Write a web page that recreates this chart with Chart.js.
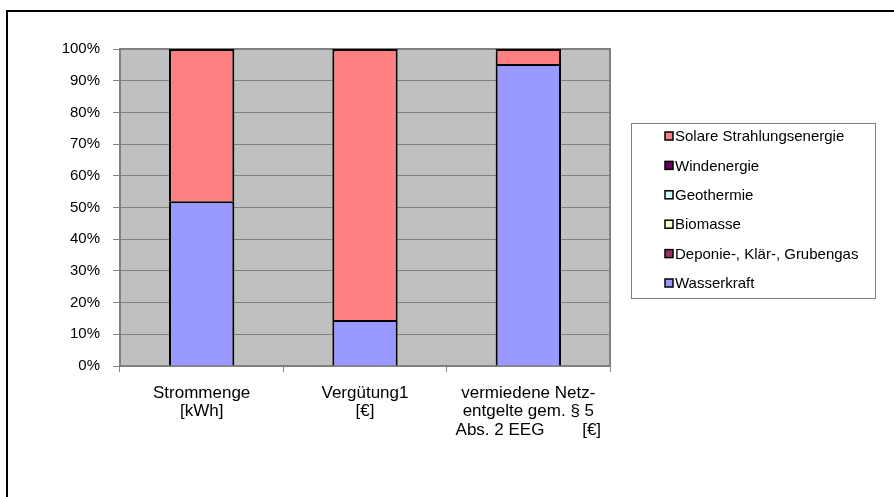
<!DOCTYPE html>
<html><head><meta charset="utf-8">
<script src="https://cdn.jsdelivr.net/npm/chart.js@4/dist/chart.umd.min.js"></script>
<style>html,body{margin:0;padding:0;background:#fff}#wrap{width:894px;height:497px;position:relative}</style>
</head><body><div id="wrap"><canvas id="c" width="894" height="497"></canvas></div>
<script>
const categories = [["Strommenge","[kWh]"],["Vergütung1","[€]"],["vermiedene Netz-","entgelte gem. § 5","Abs. 2 EEG        [€]"]];
const seriesNames = ["Wasserkraft","Deponie-, Klär-, Grubengas","Biomasse","Geothermie","Windenergie","Solare Strahlungsenergie"];
const wasserkraft = [52.0, 14.5, 95.3];
const deponie = [0, 0, 0];
const biomasse = [0, 0, 0];
const geothermie = [0, 0, 0];
const windenergie = [0, 0, 0];
const solar = [48.0, 85.5, 4.7];
const seriesColors = ["#9999FF","#993366","#FFFFCC","#CCFFFF","#660066","#FF8080"];
const yTickValues = [0,10,20,30,40,50,60,70,80,90,100];

const seriesValues = [wasserkraft, deponie, biomasse, geothermie, windenergie, solar];
const FONT = "'Liberation Sans', Arial, sans-serif";

const bgPlugin = {
  id: 'bg',
  beforeDraw(chart) {
    const c = chart.ctx, a = chart.chartArea;
    c.save();
    c.fillStyle = '#fff';
    c.fillRect(0, 0, chart.width, chart.height);
    c.fillStyle = '#C0C0C0';
    c.fillRect(a.left, a.top, a.right - a.left, a.bottom - a.top);
    c.strokeStyle = '#000';
    c.lineWidth = 2;
    c.beginPath();
    c.moveTo(7, chart.height);
    c.lineTo(7, 11);
    c.lineTo(chart.width, 11);
    c.stroke();
    c.restore();
  },
  beforeDatasetsDraw(chart) {
    const c = chart.ctx, a = chart.chartArea;
    c.save();
    c.strokeStyle = '#808080';
    c.lineWidth = 2;
    c.beginPath();
    c.moveTo(a.left, a.top); c.lineTo(a.right, a.top); c.lineTo(a.right, a.bottom);
    c.stroke();
    c.restore();
  },
  afterDraw(chart) {
    const c = chart.ctx;
    c.save();
    c.strokeStyle = '#808080';
    c.lineWidth = 1;
    c.strokeRect(631.5, 123.5, 244, 175);
    const ds = chart.data.datasets;
    c.font = '15px ' + FONT;
    c.textBaseline = 'middle';
    c.textAlign = 'left';
    for (let k = 0; k < ds.length; k++) {
      const d = ds[ds.length - 1 - k];
      const y = 136 + k * 29.4;
      c.fillStyle = d.backgroundColor;
      c.fillRect(665, y - 4, 8, 8);
      c.strokeStyle = '#000';
      c.lineWidth = 1.5;
      c.strokeRect(665, y - 4, 8, 8);
      c.fillStyle = '#000';
      c.fillText(d.label, 675, y + 1);
    }
    c.restore();
  }
};

new Chart(document.getElementById('c'), {
  type: 'bar',
  data: {
    labels: categories,
    datasets: seriesNames.map((n, i) => ({
      label: n,
      data: seriesValues[i],
      backgroundColor: seriesColors[i],
      borderColor: '#000',
      borderWidth: ctx => (ctx.raw ? 2 : 0),
      borderSkipped: 'bottom',
      barPercentage: 0.4,
      categoryPercentage: 1.0
    }))
  },
  options: {
    responsive: false,
    animation: false,
    layout: { padding: { top: 49, right: 284, left: 0, bottom: 0 } },
    plugins: { legend: { display: false }, tooltip: { enabled: false } },
    scales: {
      x: {
        stacked: true,
        grid: { offset: true, drawOnChartArea: false, tickLength: 6, color: '#808080', lineWidth: 1 },
        border: { color: '#808080', width: 2 },
        ticks: { color: '#000', font: { family: FONT, size: 17, lineHeight: 1.08 }, padding: 12, maxRotation: 0, autoSkip: false },
        afterFit(s) { s.height = 131; }
      },
      y: {
        stacked: true,
        min: 0, max: 100,
        afterBuildTicks(s) { s.ticks = yTickValues.map(v => ({ value: v })); },
        ticks: { color: '#000', font: { family: FONT, size: 15 }, padding: 13, callback: v => v + '%' },
        grid: { color: '#808080', lineWidth: 1, tickLength: 7 },
        border: { color: '#808080', width: 2 },
        afterFit(s) { s.width = 120; }
      }
    }
  },
  plugins: [bgPlugin]
});
</script></body></html>
